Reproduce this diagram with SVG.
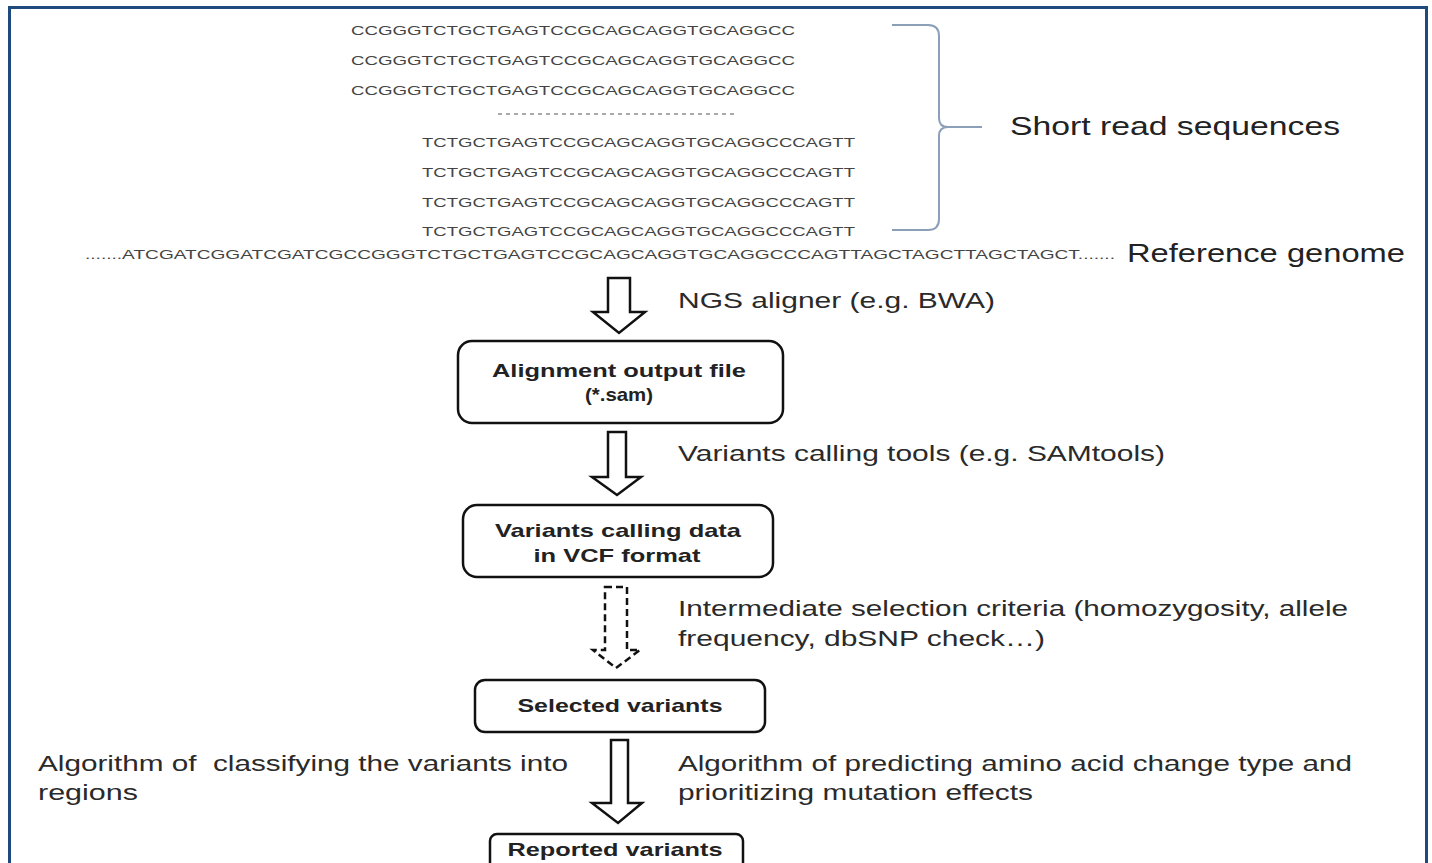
<svg xmlns="http://www.w3.org/2000/svg" width="1432" height="863" viewBox="0 0 1432 863">
<style>
.seq{font-family:"Liberation Sans",Arial,sans-serif;font-size:13px;fill:#444}
.lbl{font-family:"Liberation Sans",Arial,sans-serif;font-size:22px;fill:#2a2a2a}
.big{font-family:"Liberation Sans",Arial,sans-serif;font-size:26px;fill:#222}
.bt{font-family:"Liberation Sans",Arial,sans-serif;font-size:19px;font-weight:bold;fill:#222;text-anchor:middle}
.box{fill:#fff;stroke:#111;stroke-width:2.5}
.arr{fill:#fff;stroke:#111;stroke-width:2.5;stroke-linejoin:miter}
.dash{fill:#fff;stroke:#111;stroke-width:2.5;stroke-dasharray:7 4}
</style>
<rect x="0" y="0" width="1432" height="863" fill="#fff"/>
<rect x="9.5" y="7.5" width="1417" height="900" fill="none" stroke="#1f4a7e" stroke-width="3"/>
<g id="reads">
<text class="seq" x="351" y="35" textLength="444" lengthAdjust="spacingAndGlyphs">CCGGGTCTGCTGAGTCCGCAGCAGGTGCAGGCC</text>
<text class="seq" x="351" y="65" textLength="444" lengthAdjust="spacingAndGlyphs">CCGGGTCTGCTGAGTCCGCAGCAGGTGCAGGCC</text>
<text class="seq" x="351" y="95" textLength="444" lengthAdjust="spacingAndGlyphs">CCGGGTCTGCTGAGTCCGCAGCAGGTGCAGGCC</text>
<line x1="498" y1="114" x2="737" y2="114" stroke="#555" stroke-width="1.2" stroke-dasharray="4 4"/>
<text class="seq" x="422" y="147" textLength="433" lengthAdjust="spacingAndGlyphs">TCTGCTGAGTCCGCAGCAGGTGCAGGCCCAGTT</text>
<text class="seq" x="422" y="177" textLength="433" lengthAdjust="spacingAndGlyphs">TCTGCTGAGTCCGCAGCAGGTGCAGGCCCAGTT</text>
<text class="seq" x="422" y="207" textLength="433" lengthAdjust="spacingAndGlyphs">TCTGCTGAGTCCGCAGCAGGTGCAGGCCCAGTT</text>
<text class="seq" x="422" y="236" textLength="433" lengthAdjust="spacingAndGlyphs">TCTGCTGAGTCCGCAGCAGGTGCAGGCCCAGTT</text>
</g>
<g id="brace">
<path d="M892,25 L928,25 Q939,25 939,36 L939,118 Q939,127 948,127 L982,127 M948,127 Q939,127 939,136 L939,219 Q939,230 928,230 L892,230" fill="none" stroke="#8c9fb8" stroke-width="2"/>
<text class="big" x="1010" y="135" textLength="330" lengthAdjust="spacingAndGlyphs">Short read sequences</text>
</g>
<g id="reference">
<text class="seq" x="85" y="259" textLength="1030" lengthAdjust="spacingAndGlyphs">.......ATCGATCGGATCGATCGCCGGGTCTGCTGAGTCCGCAGCAGGTGCAGGCCCAGTTAGCTAGCTTAGCTAGCT.......</text>
<text class="big" x="1127" y="262" textLength="278" lengthAdjust="spacingAndGlyphs">Reference genome</text>
</g>
<g id="connectors">
<path class="arr" d="M608,278 L630,278 L630,312 L645,312 L619,333 L593,312 L608,312 Z"/>
<path class="arr" d="M608,432 L626,432 L626,477 L641,477 L617,495 L592,477 L608,477 Z"/>
<path class="dash" d="M605,587 L627,587 L627,650 L640,650 L616,668 L593,650 L605,650 Z"/>
<path class="arr" d="M611,740 L628,740 L628,803 L642,803 L618,823 L592,803 L611,803 Z"/>
</g>
<g id="lbl-aligner"><text class="lbl" x="678" y="308" textLength="317" lengthAdjust="spacingAndGlyphs">NGS aligner (e.g. BWA)</text></g>
<g id="lbl-calling"><text class="lbl" x="678" y="461" textLength="487" lengthAdjust="spacingAndGlyphs">Variants calling tools (e.g. SAMtools)</text></g>
<g id="lbl-criteria">
<text class="lbl" x="678" y="616" textLength="670" lengthAdjust="spacingAndGlyphs">Intermediate selection criteria (homozygosity, allele</text>
<text class="lbl" x="678" y="646" textLength="367" lengthAdjust="spacingAndGlyphs">frequency, dbSNP check…)</text>
</g>
<g id="lbl-predict">
<text class="lbl" x="678" y="771" textLength="674" lengthAdjust="spacingAndGlyphs">Algorithm of predicting amino acid change type and</text>
<text class="lbl" x="678" y="800" textLength="355" lengthAdjust="spacingAndGlyphs">prioritizing mutation effects</text>
</g>
<g id="lbl-classify">
<text class="lbl" x="38" y="771" textLength="530" lengthAdjust="spacingAndGlyphs" style="white-space:pre">Algorithm of  classifying the variants into</text>
<text class="lbl" x="38" y="800" textLength="100" lengthAdjust="spacingAndGlyphs">regions</text>
</g>
<g id="node-alignment">
<rect class="box" x="458" y="341" width="325" height="82" rx="14"/>
<text class="bt" x="619" y="377" textLength="254" lengthAdjust="spacingAndGlyphs">Alignment output file</text>
<text class="bt" x="619" y="401" textLength="68" lengthAdjust="spacingAndGlyphs">(*.sam)</text>
</g>
<g id="node-vcf">
<rect class="box" x="463" y="505" width="310" height="72" rx="14"/>
<text class="bt" x="618" y="537" textLength="246" lengthAdjust="spacingAndGlyphs">Variants calling data</text>
<text class="bt" x="617" y="562" textLength="167" lengthAdjust="spacingAndGlyphs">in VCF format</text>
</g>
<g id="node-selected">
<rect class="box" x="475" y="680" width="290" height="52" rx="10"/>
<text class="bt" x="620" y="712" textLength="205" lengthAdjust="spacingAndGlyphs">Selected variants</text>
</g>
<g id="node-reported">
<rect class="box" x="490" y="834" width="253" height="40" rx="7"/>
<text class="bt" x="615" y="856" textLength="215" lengthAdjust="spacingAndGlyphs">Reported variants</text>
</g>
</svg>
